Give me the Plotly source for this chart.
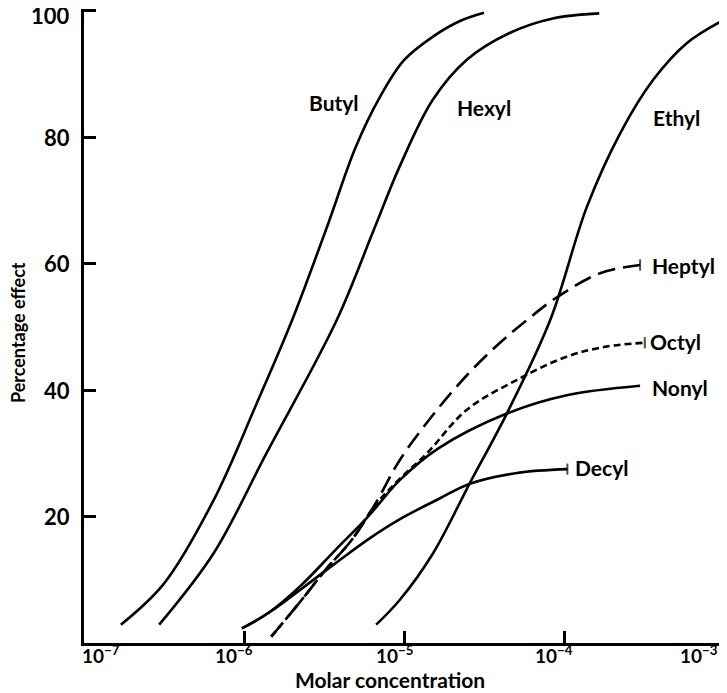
import math
import plotly.graph_objects as go

# Molar concentration (x) and percentage effect (y)
butyl_x = [1.70e-7, 3.16e-7, 6.46e-7, 1.20e-6, 2.00e-6, 3.31e-6, 5.00e-6, 7.08e-6, 1.00e-5, 1.51e-5, 2.24e-5, 3.16e-5]
butyl_y = [2.9, 9.4, 22.6, 37.9, 51.1, 65.9, 78.5, 86.4, 92.2, 95.9, 98.4, 99.7]

hexyl_x = [2.95e-7, 6.46e-7, 1.38e-6, 3.80e-6, 6.46e-6, 9.40e-6, 1.51e-5, 2.45e-5, 4.57e-5, 8.50e-5, 1.66e-4]
hexyl_y = [2.9, 14.2, 30.0, 51.1, 65.3, 75.4, 85.9, 92.2, 96.5, 98.8, 99.6]

ethyl_x = [6.70e-6, 9.40e-6, 1.52e-5, 2.58e-5, 4.39e-5, 8.20e-5, 1.39e-4, 2.24e-4, 3.61e-4, 5.85e-4, 1.00e-3]
ethyl_y = [2.9, 6.8, 14.2, 25.3, 36.3, 51.1, 69.0, 80.6, 89.1, 94.9, 98.6]

heptyl_x = [1.48e-6, 2.29e-6, 3.24e-6, 4.71e-6, 6.61e-6, 9.44e-6, 1.52e-5, 2.48e-5, 3.98e-5, 5.87e-5, 9.04e-5, 1.68e-4, 2.99e-4]
heptyl_y = [1.0, 6.8, 11.6, 16.3, 22.0, 29.0, 36.1, 42.4, 47.5, 51.1, 54.7, 58.5, 59.8]

octyl_x = [1.48e-6, 2.29e-6, 3.24e-6, 4.71e-6, 6.61e-6, 9.44e-6, 1.39e-5, 2.47e-5, 5.06e-5, 1.04e-4, 1.85e-4, 3.20e-4]
octyl_y = [1.0, 6.8, 11.6, 16.3, 21.8, 26.0, 30.0, 36.9, 41.6, 45.3, 46.9, 47.5]

nonyl_x = [9.70e-7, 1.41e-6, 2.29e-6, 3.72e-6, 5.96e-6, 9.44e-6, 1.64e-5, 4.39e-5, 1.04e-4, 2.99e-4]
nonyl_y = [2.3, 4.7, 9.2, 14.7, 20.0, 25.8, 30.8, 36.3, 39.2, 40.7]

decyl_x = [9.70e-7, 1.45e-6, 2.24e-6, 3.72e-6, 6.13e-6, 9.44e-6, 1.68e-5, 2.58e-5, 5.08e-5, 1.05e-4]
decyl_y = [2.3, 4.9, 8.4, 12.6, 16.6, 19.6, 22.9, 25.2, 26.9, 27.5]

x_ticks = [1e-7, 1e-6, 1e-5, 1e-4, 1e-3]
x_ticktext = ["10<sup>−7</sup>", "10<sup>−6</sup>", "10<sup>−5</sup>", "10<sup>−4</sup>", "10<sup>−3</sup>"]
y_ticks = [20, 40, 60, 80, 100]
y_ticktext = ["20", "40", "60", "80", "100"]

# label text, concentration, effect, anchor
label_names = ["Butyl", "Hexyl", "Ethyl", "Heptyl", "Octyl", "Nonyl", "Decyl"]
label_x = [3.65e-6, 3.16e-5, 5.08e-4, 3.45e-4, 3.35e-4, 3.45e-4, 1.14e-4]
label_y = [85.5, 84.7, 83.2, 59.8, 47.7, 40.4, 27.7]
label_anchor = ["center", "center", "center", "left", "left", "left", "left"]

FONT = "Lato"
BLACK = "black"
XLABEL_SHIFT = [17, -10, -10, -10, -25]

series = [
    (butyl_x, butyl_y, "solid", False),
    (hexyl_x, hexyl_y, "solid", False),
    (ethyl_x, ethyl_y, "solid", False),
    (heptyl_x, heptyl_y, "18px,8px", True),
    (octyl_x, octyl_y, "7px,4px", True),
    (nonyl_x, nonyl_y, "solid", False),
    (decyl_x, decyl_y, "solid", True),
]

fig = go.Figure()
for xs, ys, dash, endmark in series:
    fig.add_trace(go.Scatter(
        x=xs, y=ys,
        mode="lines+markers" if endmark else "lines",
        line=dict(color=BLACK, width=2.6, dash=dash, shape="spline", smoothing=1.0),
        marker=dict(symbol="line-ns-open", size=[0] * (len(xs) - 1) + [8],
                    line=dict(color=BLACK, width=2)),
        showlegend=False,
    ))

# curve labels (log axis -> annotation x in log10 units)
for text, lx, ly, anchor in zip(label_names, label_x, label_y, label_anchor):
    fig.add_annotation(x=math.log10(lx), y=ly, text=text, showarrow=False,
                       xanchor=anchor, yanchor="middle",
                       font=dict(family=FONT, size=21, color=BLACK, weight="bold"))

# x tick labels, placed on the log scale
for v, txt, sh in zip(x_ticks, x_ticktext, XLABEL_SHIFT):
    fig.add_annotation(x=math.log10(v), y=0, yref="paper", text=txt, showarrow=False,
                       xanchor="center", yanchor="top", xshift=sh, yshift=3,
                       font=dict(family=FONT, size=19, color=BLACK, weight="bold"))

# y tick labels
for v, txt in zip(y_ticks, y_ticktext):
    fig.add_annotation(x=0, xref="paper", y=v, text=txt, showarrow=False,
                       xanchor="right", yanchor="middle", xshift=-12,
                       yshift=-5 if v == 100 else 0,
                       font=dict(family=FONT, size=22, color=BLACK, weight="bold"))

# axis titles
fig.add_annotation(text="Molar concentration", xref="paper", yref="paper",
                   x=0.478, y=-0.058, xanchor="center", yanchor="middle", showarrow=False,
                   font=dict(family=FONT, size=21, color=BLACK, weight="bold"))
fig.add_annotation(text="Percentage effect", xref="paper", yref="paper",
                   x=-0.102, y=0.49, xanchor="center", yanchor="middle", showarrow=False,
                   textangle=-90,
                   font=dict(family=FONT, size=18, color=BLACK, weight="bold"))

fig.update_xaxes(
    type="log", range=[-7, -3],
    tickvals=x_ticks, showticklabels=False,
    ticks="inside", ticklen=12, tickwidth=2.5, tickcolor=BLACK,
    showline=True, linewidth=3, linecolor=BLACK,
    showgrid=False, zeroline=False, automargin=False,
)
fig.update_yaxes(
    range=[0, 100.3],
    tickvals=y_ticks, showticklabels=False,
    ticks="inside", ticklen=12, tickwidth=2.5, tickcolor=BLACK,
    showline=True, linewidth=3, linecolor=BLACK,
    showgrid=False, zeroline=False, automargin=False,
)

# the page adds an 8px body margin, so the figure is drawn slightly smaller
fig.update_layout(
    width=719, height=685,
    margin=dict(l=76, r=3, t=1, b=50),
    plot_bgcolor="white", paper_bgcolor="white",
)

fig.write_html("out.html")
